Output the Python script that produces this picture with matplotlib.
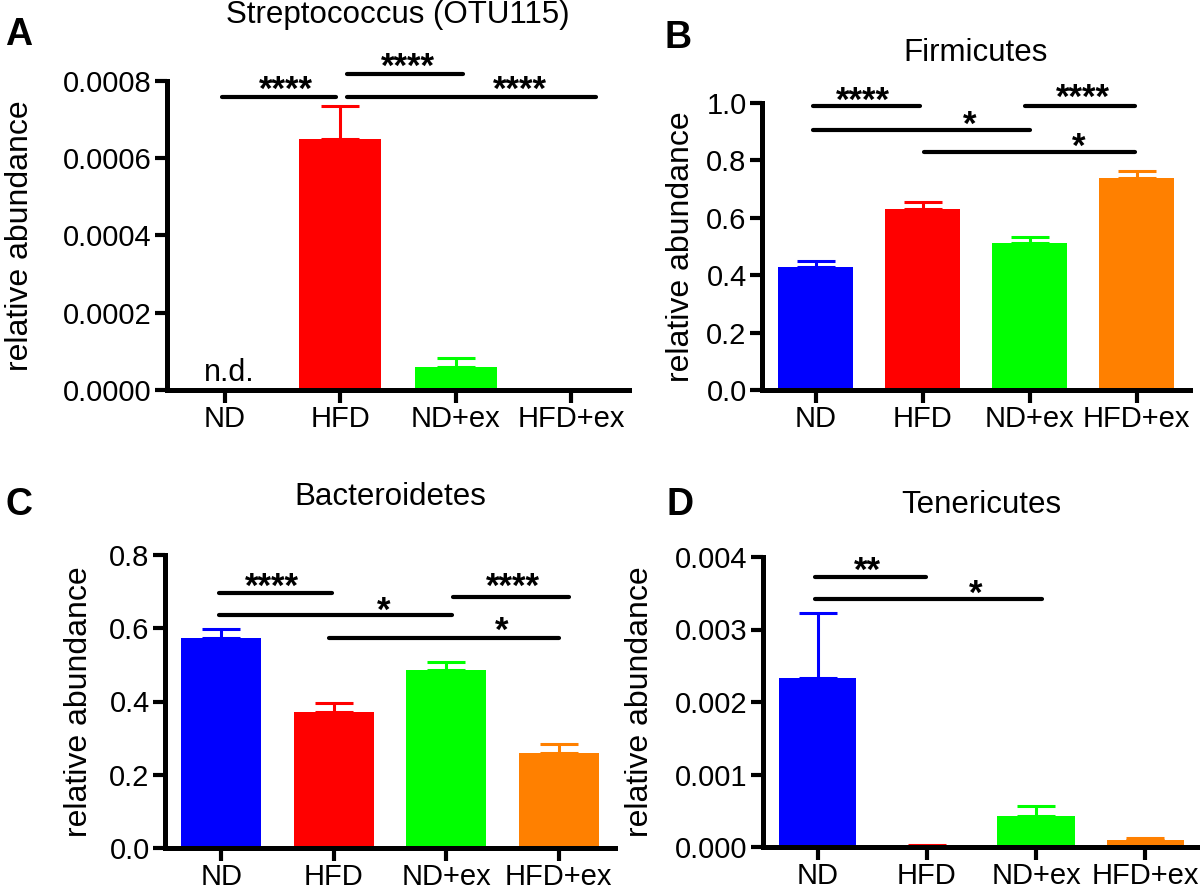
import numpy as np
import matplotlib.pyplot as plt
from matplotlib.ticker import FormatStrFormatter

plt.rcParams['font.family'] = ['Liberation Sans', 'DejaVu Sans']

# данные (среднее и SEM по группам)
groups = ['ND', 'HFD', 'ND+ex', 'HFD+ex']
colors = ['#0000ff', '#ff0000', '#00ff00', '#ff8000']

strep_mean = [np.nan, 0.000649, 0.0000588, 0.0]
strep_sem = [0.0, 0.000086, 0.000025, 0.0]
firm_mean = [0.427, 0.629, 0.512, 0.737]
firm_sem = [0.021, 0.026, 0.022, 0.027]
bact_mean = [0.574, 0.371, 0.486, 0.260]
bact_sem = [0.023, 0.025, 0.023, 0.025]
ten_mean = [0.00233, 0.00002, 0.000426, 0.0001]
ten_sem = [0.0009, 0.000004, 0.000138, 0.00003]

# значимость: (x от, x до, высота линии, метка, x меток, высота меток)
strep_sig = [(-0.02, 0.96, 0.000759, '****', 0.53, 0.000803),
             (1.06, 2.06, 0.000817, '****', 1.59, 0.000862),
             (1.06, 3.21, 0.000759, '****', 2.56, 0.000803)]
firm_sig = [(-0.02, 0.98, 0.988, '****', 0.44, 1.041),
            (1.96, 2.99, 0.988, '****', 2.50, 1.053),
            (-0.02, 2.00, 0.906, '*', 1.44, 0.959),
            (1.01, 2.99, 0.828, '*', 2.46, 0.883)]
bact_sig = [(-0.02, 0.98, 0.697, '****', 0.45, 0.739),
            (2.06, 3.09, 0.686, '****', 2.59, 0.739),
            (-0.02, 2.05, 0.635, '*', 1.44, 0.675),
            (0.96, 3.00, 0.574, '*', 2.49, 0.619)]
ten_sig = [(-0.02, 0.99, 0.00372, '**', 0.46, 0.00394),
           (-0.02, 2.05, 0.003423, '*', 1.45, 0.00362)]

W, H = 1200, 889
fig = plt.figure(figsize=(W / 100, H / 100), dpi=100)

FS = 21        # подписи делений
FS_TITLE = 22.5
FS_YLAB = 23
FS_STAR = 25


def px_axes(left, right, bottom, top):
    return fig.add_axes([left / W, 1 - bottom / H, (right - left) / W, (bottom - top) / H])


def panel(ax, mean, sem, sig, ymax, yticks, fmt, title, title_y, ylab_x):
    x = np.arange(len(groups))
    ax.bar(x, np.nan_to_num(mean), width=0.71, color=colors, edgecolor='none', zorder=2)
    for i in range(len(groups)):
        if np.isnan(mean[i]) or sem[i] <= 0:
            continue
        ax.errorbar(x[i], mean[i], yerr=[[0], [sem[i]]], fmt='none', ecolor=colors[i],
                    elinewidth=2.2, capsize=14, capthick=2.2, zorder=1)
    ax.set_xlim(-0.5, 3.5)
    ax.set_ylim(0, ymax)
    ax.set_yticks(yticks)
    ax.yaxis.set_major_formatter(FormatStrFormatter(fmt))
    ax.set_xticks(x)
    ax.set_xticklabels(groups)
    for s in ('top', 'right'):
        ax.spines[s].set_visible(False)
    for s in ('left', 'bottom'):
        ax.spines[s].set_linewidth(3.6)
    ax.tick_params(direction='out', length=9, width=3, labelsize=FS, pad=2)
    ax.set_ylabel('relative abundance', fontsize=FS_YLAB)
    ax.yaxis.set_label_coords(ylab_x, 0.5)
    ax.text(0.5, title_y, title, transform=ax.transAxes, ha='center', va='center',
            fontsize=FS_TITLE)
    for x0, x1, y, lab, tx, ty in sig:
        ax.plot([x0, x1], [y, y], color='black', lw=3.0, solid_capstyle='round', clip_on=False)
        ax.annotate(lab, (tx, ty), xytext=(0, -0.57 * FS_STAR), textcoords='offset points',
                    ha='center', va='baseline', fontsize=FS_STAR, fontweight='bold',
                    annotation_clip=False)


axA = px_axes(167, 629, 390, 81)
panel(axA, strep_mean, strep_sem, strep_sig, 0.0008, np.arange(0, 0.00081, 0.0002), '%.4f',
      'Streptococcus (OTU115)', 1.214, -0.286)
axA.text(0.04, 0.000045, 'n.d.', ha='center', va='center', fontsize=FS + 1)

axB = px_axes(762, 1190, 390, 103)
panel(axB, firm_mean, firm_sem, firm_sig, 1.0, np.arange(0, 1.01, 0.2), '%.1f',
      'Firmicutes', 1.174, -0.154)

axC = px_axes(165, 615, 848, 555)
panel(axC, bact_mean, bact_sem, bact_sig, 0.8, np.arange(0, 0.81, 0.2), '%.1f',
      'Bacteroidetes', 1.198, -0.158)

axD = px_axes(763, 1200, 847, 557)
panel(axD, ten_mean, ten_sem, ten_sig, 0.004, np.arange(0, 0.0041, 0.001), '%.3f',
      'Tenericutes', 1.179, -0.247)

for lab, (lx, ly) in zip('ABCD', [(19, 35), (678, 38), (19, 505), (680, 505)]):
    fig.text(lx / W, 1 - ly / H, lab, fontsize=27, fontweight='bold', ha='center', va='center')

fig.savefig('out.png', dpi=100)
